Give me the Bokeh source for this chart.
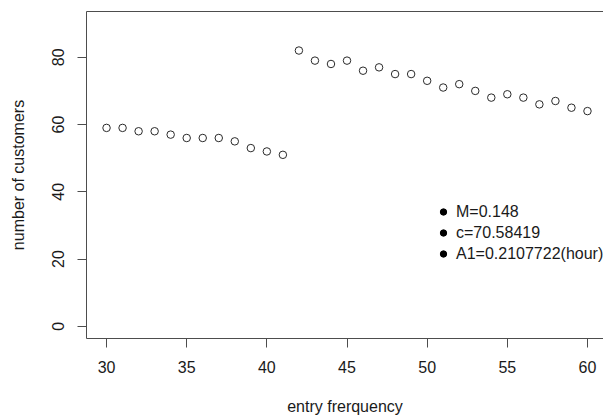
from bokeh.plotting import figure
from bokeh.models import Range1d, LinearAxis, FixedTicker, Legend, LegendItem
from bokeh.embed import file_html
from bokeh.resources import INLINE

# data
entry_frequency = list(range(30, 61))
customers = [59, 59, 58, 58, 57, 56, 56, 56, 55, 53, 52, 51,
             82, 79, 78, 79, 76, 77, 75, 75, 73, 71, 72, 70, 68, 69, 68, 66, 67, 65, 64]
x_ticks = [30, 35, 40, 45, 50, 55, 60]
y_ticks = [0, 20, 40, 60, 80]
legend_labels = ["M=0.148", "c=70.58419", "A1=0.2107722(hour)"]

FONT = "Liberation Sans"
TXT = "#1a1a1a"
LINE = "#4d4d4d"

p = figure(width=603, height=418, output_backend="svg", toolbar_location=None,
           x_range=Range1d(28.75, 61.0), y_range=Range1d(-3.6, 93.6),
           min_border_left=86, min_border_right=0, min_border_top=11, min_border_bottom=80,
           x_axis_label="entry frerquency", y_axis_label="number of customers")
p.outline_line_color = None
p.grid.visible = False
p.background_fill_color = "white"
p.border_fill_color = "white"

for ax in (p.xaxis[0], p.yaxis[0]):
    ax.axis_line_color = LINE
    ax.axis_line_width = 1
    ax.major_tick_line_color = LINE
    ax.major_tick_in = 0
    ax.major_tick_out = 9
    ax.minor_tick_in = 0
    ax.minor_tick_out = 0
    ax.major_label_text_font = FONT
    ax.major_label_text_font_size = "16px"
    ax.major_label_text_color = TXT
    ax.axis_label_text_font = FONT
    ax.axis_label_text_font_size = "16px"
    ax.axis_label_text_font_style = "normal"
    ax.axis_label_text_color = TXT

p.xaxis[0].ticker = FixedTicker(ticks=x_ticks)
p.yaxis[0].ticker = FixedTicker(ticks=y_ticks)
p.xaxis[0].major_label_standoff = 13
p.xaxis[0].axis_label_standoff = 22
p.yaxis[0].major_label_orientation = "vertical"
p.yaxis[0].major_label_standoff = 13
p.yaxis[0].axis_label_standoff = 23

top_axis = LinearAxis(ticker=FixedTicker(ticks=[]), major_label_text_font_size="0px",
                      major_tick_out=0, major_tick_in=0, minor_tick_out=0, minor_tick_in=0,
                      axis_line_color=LINE, axis_line_width=1)
p.add_layout(top_axis, "above")

p.scatter(entry_frequency, customers, marker="circle", size=7.5,
          fill_color=None, line_color="#2a2a2a", line_width=1)

# hidden renderer used only to supply the legend's bullet glyphs
dummy = p.scatter(entry_frequency[:1], customers[:1], marker="circle", size=7,
                  fill_color="black", line_color="black", visible=False)
legend = Legend(items=[LegendItem(label=lab, renderers=[dummy]) for lab in legend_labels],
                location=(349, 74), orientation="vertical",
                glyph_width=16, glyph_height=21, label_height=21, spacing=0,
                padding=0, margin=0, label_standoff=5,
                border_line_color=None, background_fill_alpha=0,
                inactive_fill_alpha=0,
                label_text_font=FONT, label_text_font_size="16px", label_text_color=TXT)
p.add_layout(legend)

open("out.html", "w").write(file_html(p, INLINE))
